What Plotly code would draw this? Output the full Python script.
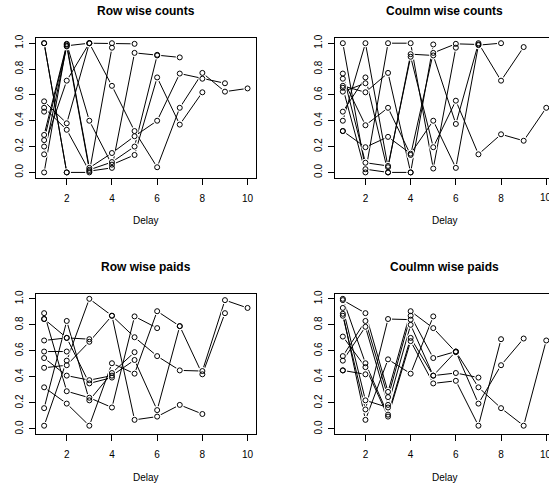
import plotly.graph_objects as go

W, H = 549, 492

delay = [1, 2, 3, 4, 5, 6, 7, 8, 9, 10]
x_ticks = [2, 4, 6, 8, 10]
x_tick_text = ["2", "4", "6", "8", "10"]
y_ticks = [0.0, 0.2, 0.4, 0.6, 0.8, 1.0]
y_tick_text = ["0.0", "0.2", "0.4", "0.6", "0.8", "1.0"]

titles = ["Row wise counts", "Coulmn wise counts", "Row wise paids", "Coulmn wise paids"]
x_title = "Delay"

row_counts = [
    [0.20, 0.71, 1.00, 0.67, 0.32, 0.04, 0.50, 0.77, 0.625, 0.65],
    [0.29, 0.99, 0.035, 0.15, 0.28, 0.40, 0.765, 0.725, 0.69],
    [0.00, 0.995, 0.40, 0.06, 0.135, 0.735, 0.37, 0.62],
    [0.50, 0.33, 0.01, 0.035, 0.925, 0.91, 0.89],
    [0.14, 0.975, 0.02, 0.08, 0.20, 0.905],
    [0.25, 0.98, 1.00, 1.00, 0.995],
    [1.00, 0.00, 0.00, 0.965],
    [0.55, 0.38, 1.00],
    [1.00, 0.00],
    [0.47],
]

column_counts = [
    [0.765, 0.075, 0.05, 0.895, 0.195, 0.555, 0.14, 0.295, 0.245, 0.50],
    [0.40, 1.00, 0.04, 0.915, 0.905, 0.375, 1.00, 0.71, 0.97],
    [0.32, 0.195, 0.275, 0.145, 0.40, 0.035, 0.985, 1.00],
    [0.725, 0.365, 0.50, 0.135, 0.925, 0.995, 0.99],
    [0.655, 0.00, 1.00, 1.00, 0.03, 0.965],
    [1.00, 0.025, 0.00, 0.00, 0.99],
    [0.67, 0.62, 0.77, 0.00],
    [0.47, 0.735, 0.00],
    [0.625, 0.69],
    [0.32],
]

row_paids = [
    [0.025, 0.525, 1.00, 0.87, 0.705, 0.56, 0.45, 0.445, 0.99, 0.93],
    [0.32, 0.195, 0.025, 0.505, 0.425, 0.905, 0.79, 0.42, 0.89],
    [0.47, 0.49, 0.67, 0.87, 0.07, 0.095, 0.185, 0.115],
    [0.545, 0.41, 0.375, 0.41, 0.53, 0.145, 0.79],
    [0.89, 0.29, 0.24, 0.165, 0.865, 0.775],
    [0.16, 0.83, 0.22, 0.43, 0.59],
    [0.845, 0.70, 0.35, 0.395],
    [0.68, 0.70, 0.69],
    [0.595, 0.595],
    [0.845],
]

column_paids = [
    [0.56, 0.83, 0.245, 0.87, 0.545, 0.595, 0.32, 0.16, 0.025, 0.68],
    [0.525, 0.785, 0.185, 0.80, 0.41, 0.595, 0.195, 0.49, 0.695],
    [0.71, 0.475, 0.095, 0.675, 0.35, 0.37, 0.025, 0.69],
    [1.00, 0.505, 0.11, 0.70, 0.41, 0.43, 0.395],
    [0.99, 0.89, 0.285, 0.905, 0.775, 0.59],
    [0.885, 0.07, 0.535, 0.425, 0.865],
    [0.87, 0.15, 0.845, 0.84],
    [0.93, 0.22, 0.165],
    [0.45, 0.42],
    [0.45],
]

panels = [row_counts, column_counts, row_paids, column_paids]

# pixel geometry of the four plot regions (left, top, bottom)
PX_PER_UNIT = 219.7 / 9.72
plot_w = 219.7
lefts = [36.0, 334.7, 36.0, 334.7]
tops = [34.3, 34.3, 292.0, 292.0]
bottoms = [175.0, 175.0, 433.7, 433.7]

FONT = "Liberation Sans, Arial, Helvetica, sans-serif"

fig = go.Figure()
layout = dict(
    width=W, height=H, margin=dict(l=0, r=0, t=0, b=0),
    paper_bgcolor="white", plot_bgcolor="white", showlegend=False,
    font=dict(family=FONT, color="black"), hovermode=False,
)
annotations = []

for i, series in enumerate(panels):
    n = i + 1
    xa = "x" if n == 1 else f"x{n}"
    ya = "y" if n == 1 else f"y{n}"
    left = lefts[i]
    right = min(left + plot_w, W)
    x0 = 0.64
    x1 = x0 + (right - left) / PX_PER_UNIT
    clipped = (left + plot_w) > W

    all_x, all_y = [], []
    for s in series:
        xs = delay[:len(s)]
        all_x += xs
        all_y += s
        fig.add_trace(go.Scatter(x=xs, y=s, mode="lines", xaxis=xa, yaxis=ya,
                                 line=dict(color="black", width=1),
                                 hoverinfo="skip"))
    # white masks to leave the small gaps of R's type="b"
    fig.add_trace(go.Scatter(x=all_x, y=all_y, mode="markers", xaxis=xa, yaxis=ya,
                             marker=dict(symbol="circle", size=8, color="white",
                                         line=dict(width=0)),
                             hoverinfo="skip"))
    fig.add_trace(go.Scatter(x=all_x, y=all_y, mode="markers", xaxis=xa, yaxis=ya,
                             marker=dict(symbol="circle-open", size=5, color="black",
                                         line=dict(width=1, color="black")),
                             hoverinfo="skip"))

    # the last tick label of the clipped right-hand panels is cut by the page edge;
    # it is written as an annotation so the browser shows its visible part
    ttext = list(x_tick_text)
    if clipped:
        ttext[-1] = ""
        annotations.append(dict(text=x_tick_text[-1], x=x_ticks[-1], xref=xa,
                                y=1 - (bottoms[i] + 20.0) / H, yref="paper",
                                xanchor="center", yanchor="middle", showarrow=False,
                                font=dict(size=10, family=FONT, color="black")))

    layout["xaxis" if n == 1 else f"xaxis{n}"] = dict(
        domain=[left / W, right / W], anchor=ya, range=[x0, x1],
        tickvals=x_ticks, ticktext=ttext, ticks="outside", ticklen=6, tickwidth=1,
        tickcolor="black",
        showline=True, linecolor="black", linewidth=1, mirror=True,
        showgrid=False, zeroline=False, tickfont=dict(size=10, family=FONT, color="black"),
        ticklabelstandoff=5, ticklabeloverflow="allow", fixedrange=True,
    )
    layout["yaxis" if n == 1 else f"yaxis{n}"] = dict(
        domain=[1 - bottoms[i] / H, 1 - tops[i] / H], anchor=xa, range=[-0.04, 1.04],
        tickvals=y_ticks, ticktext=y_tick_text, tickangle=-90,
        ticks="outside", ticklen=6, tickwidth=1, tickcolor="black",
        showline=True, linecolor="black", linewidth=1, mirror=(not clipped),
        showgrid=False, zeroline=False, tickfont=dict(size=10, family=FONT, color="black"),
        ticklabelstandoff=2, fixedrange=True,
    )
    cx = (left + left + plot_w) / 2
    annotations.append(dict(text="<b>" + titles[i] + "</b>", x=cx / W, y=1 - (tops[i] - 27.0) / H,
                            xref="paper", yref="paper", xanchor="center", yanchor="middle",
                            showarrow=False, font=dict(size=12, family=FONT, color="black")))
    annotations.append(dict(text=x_title, x=cx / W, y=1 - (bottoms[i] + 43.5) / H,
                            xref="paper", yref="paper", xanchor="center", yanchor="middle",
                            showarrow=False, font=dict(size=10, family=FONT, color="black")))

layout["annotations"] = annotations
fig.update_layout(**layout)
fig.write_html(
    "out.html",
    config={"displayModeBar": False, "staticPlot": True},
    post_script="document.body.style.margin='0';document.body.style.overflow='hidden';",
)
